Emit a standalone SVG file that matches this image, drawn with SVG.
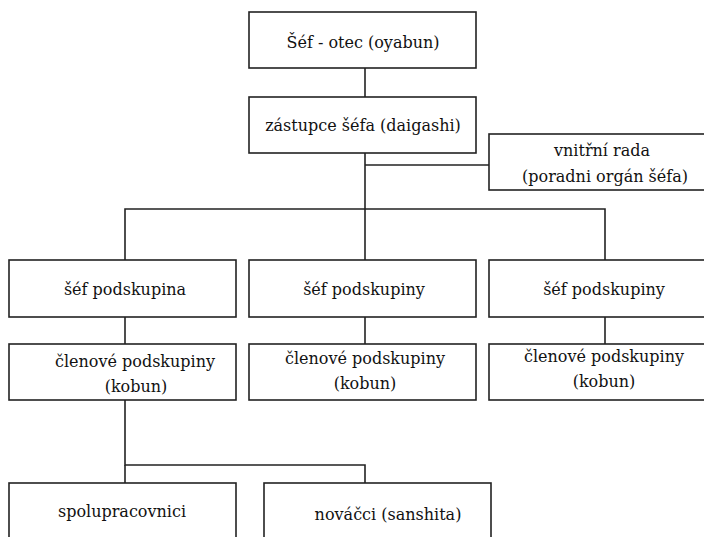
<svg xmlns="http://www.w3.org/2000/svg" width="704" height="537" viewBox="0 0 704 537">
<style>
.box{fill:#fff;stroke:#222;stroke-width:1.6}
.ln{fill:none;stroke:#222;stroke-width:1.6}
.t{font-family:"DejaVu Serif","Liberation Serif",serif;font-size:16px;fill:#111;text-anchor:middle}
</style>
<rect width="704" height="537" fill="#fff"/>
<g id="connectors">
<path class="ln" d="M365 68V97"/>
<path class="ln" d="M365 153V209"/>
<path class="ln" d="M365 165H489"/>
<path class="ln" d="M125 260V209H605V260"/>
<path class="ln" d="M365 209V260"/>
<path class="ln" d="M125 317V344"/>
<path class="ln" d="M365 317V344"/>
<path class="ln" d="M605 317V344"/>
<path class="ln" d="M125 400V465H365V483"/>
<path class="ln" d="M125 465V483"/>
</g>
<g id="oyabun"><rect class="box" x="249" y="12" width="227" height="56"/><text class="t" x="363" y="48">Šéf - otec (oyabun)</text></g>
<g id="daigashi"><rect class="box" x="249" y="97" width="227" height="56"/><text class="t" x="363" y="131">zástupce šéfa (daigashi)</text></g>
<g id="rada"><rect class="box" x="489" y="134" width="216" height="56"/><text class="t" x="602" y="156">vnitřní rada</text><text class="t" x="605" y="182">(poradni orgán šéfa)</text></g>
<g id="sef1"><rect class="box" x="9" y="260" width="227" height="57"/><text class="t" x="125" y="295">šéf podskupina</text></g>
<g id="sef2"><rect class="box" x="249" y="260" width="227" height="57"/><text class="t" x="364" y="295">šéf podskupiny</text></g>
<g id="sef3"><rect class="box" x="489" y="260" width="216" height="57"/><text class="t" x="604" y="295">šéf podskupiny</text></g>
<g id="clen1"><rect class="box" x="9" y="344" width="227" height="56"/><text class="t" x="135" y="367">členové podskupiny</text><text class="t" x="136" y="392">(kobun)</text></g>
<g id="clen2"><rect class="box" x="249" y="344" width="227" height="56"/><text class="t" x="365" y="364">členové podskupiny</text><text class="t" x="365" y="389">(kobun)</text></g>
<g id="clen3"><rect class="box" x="489" y="344" width="216" height="56"/><text class="t" x="604" y="362">členové podskupiny</text><text class="t" x="604" y="387">(kobun)</text></g>
<g id="spolu"><rect class="box" x="9" y="483" width="227" height="70"/><text class="t" x="122" y="517">spolupracovnici</text></g>
<g id="novacci"><rect class="box" x="264" y="483" width="227" height="70"/><text class="t" x="388" y="520">nováčci (sanshita)</text></g>
</svg>
